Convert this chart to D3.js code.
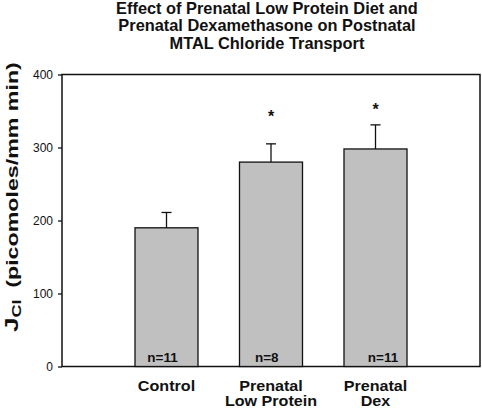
<!DOCTYPE html>
<html><head><meta charset="utf-8">
<script src="https://cdn.jsdelivr.net/npm/d3@7"></script>
<style>body{margin:0;background:#fff}svg{display:block}text{font-family:"Liberation Sans",Arial,sans-serif}</style>
</head><body>
<script>
const categories = [["Control"], ["Prenatal", "Low Protein"], ["Prenatal", "Dex"]];
const means = [190, 280, 298];
const errors = [21, 25, 33];
const nLabels = ["n=11", "n=8", "n=11"];
const asteriskAt = [null, 347, 357];
const yTicks = [0, 100, 200, 300, 400];
const titleLines = ["Effect of Prenatal Low Protein Diet and", "Prenatal Dexamethasone on Postnatal", "MTAL Chloride Transport"];

const W = 482, H = 410;
const m = {left: 62, right: 2, top: 74.5, bottom: 43.5};
const svg = d3.select("body").append("svg").attr("width", W).attr("height", H);

const ids = categories.map((c, i) => i);
const x = d3.scalePoint().domain(ids).range([m.left, W - m.right]).padding(1);
const y = d3.scaleLinear().domain([0, 400]).range([H - m.bottom, m.top]);
const bw = 63;

// horizontally stretch a text element (anchored middle at cx) to a target width
function stretch(node, cx, cy, sx) {
  d3.select(node).attr("transform", `translate(${cx},${cy}) scale(${sx},1) translate(${-cx},${-cy})`);
}

// title
const tt = svg.append("g").selectAll("text").data(titleLines).join("text")
  .attr("x", 267).attr("y", (d, i) => 14 + i * 17.5)
  .attr("text-anchor", "middle").attr("font-weight", "bold").attr("font-size", 16)
  .attr("fill", "#111").text(d => d);
const tsx = 302 / tt.node().getComputedTextLength();
tt.each(function(d, i) { stretch(this, 267, 0, tsx); });

// frame
svg.append("rect").attr("x", m.left).attr("y", m.top)
  .attr("width", W - m.right - m.left).attr("height", y(0) - m.top)
  .attr("fill", "none").attr("stroke", "#111").attr("stroke-width", 1.5);

// bars
svg.append("g").selectAll("rect").data(means).join("rect")
  .attr("x", (d, i) => x(i) - bw / 2).attr("width", bw)
  .attr("y", d => y(d)).attr("height", d => y(0) - y(d))
  .attr("fill", "#c0c0c0").attr("stroke", "#111").attr("stroke-width", 1.3);

// error bars
const eg = svg.append("g").attr("stroke", "#111").attr("stroke-width", 1.3);
means.forEach((d, i) => {
  eg.append("line").attr("x1", x(i)).attr("x2", x(i)).attr("y1", y(d)).attr("y2", y(d + errors[i]));
  eg.append("line").attr("x1", x(i) - 5).attr("x2", x(i) + 5).attr("y1", y(d + errors[i])).attr("y2", y(d + errors[i]));
});

// asterisks
svg.append("g").selectAll("text").data(asteriskAt.map((v, i) => ({v, i})).filter(o => o.v != null)).join("text")
  .attr("x", o => x(o.i)).attr("y", o => y(o.v) + 9)
  .attr("text-anchor", "middle").attr("font-weight", "bold").attr("font-size", 16).attr("fill", "#111").text("*");

// n labels
const nOff = [-4, -4.3, 7.5];
const nl = svg.append("g").selectAll("text").data(nLabels).join("text")
  .attr("x", (d, i) => x(i) + nOff[i]).attr("y", y(0) - 4.8)
  .attr("text-anchor", "middle").attr("font-weight", "bold").attr("font-size", 12)
  .attr("fill", "#111").text(d => d);
const nsx = 30.4 / nl.node().getComputedTextLength();
nl.each(function(d, i) { stretch(this, x(i) + nOff[i], 0, nsx); });

// y axis
const ya = svg.append("g").attr("transform", `translate(${m.left},0)`)
  .call(d3.axisLeft(y).tickValues(yTicks).tickSize(4).tickPadding(5).tickFormat(d3.format("d")));
ya.select(".domain").remove();
ya.selectAll("line").attr("stroke", "#111").attr("stroke-width", 1.3);
ya.selectAll("text").attr("font-size", 12).attr("fill", "#111").attr("font-family", '"Liberation Sans",Arial,sans-serif');

// x labels
let xsx = null;
categories.forEach((lines, i) => {
  const t = svg.append("text").attr("x", x(i)).attr("y", 391)
    .attr("text-anchor", "middle").attr("font-weight", "bold").attr("font-size", 14.5).attr("fill", "#111");
  t.selectAll("tspan").data(lines).join("tspan")
    .attr("x", x(i)).attr("dy", (d, j) => j ? 15.5 : 0).text(d => d);
  if (xsx === null) xsx = 57.3 / t.node().getComputedTextLength();
  stretch(t.node(), x(i), 0, xsx);
});

// y label
const yl = svg.append("text").attr("font-weight", "bold").attr("font-size", 16).attr("fill", "#111");
yl.append("tspan").attr("font-size", 18).text("J");
yl.append("tspan").attr("font-size", 12.5).attr("dy", 3.5).text("Cl");
yl.append("tspan").attr("dy", -3.5).text("\u2002(picomoles/mm min)");
const bb = yl.node().getBBox();
const ysx = 270 / bb.width;
yl.attr("transform", `translate(17.5,197) rotate(-90) scale(${ysx},1) translate(${-(bb.x + bb.width / 2)},0)`);
</script>
</body></html>
